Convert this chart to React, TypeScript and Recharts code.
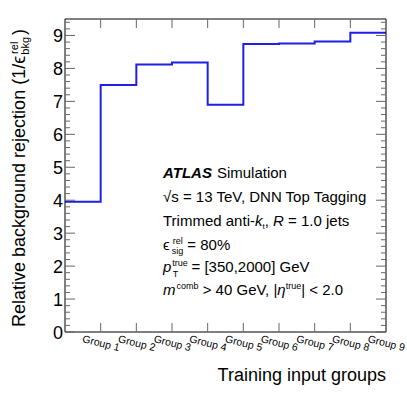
import { Line, LineChart, XAxis, YAxis } from "recharts";

const groups = ["Group 1", "Group 2", "Group 3", "Group 4", "Group 5", "Group 6", "Group 7", "Group 8", "Group 9"];
const rejection = [3.95, 7.5, 8.12, 8.18, 6.9, 8.74, 8.76, 8.82, 9.08];
const binEdges = [1, 2, 3, 4, 5, 6, 7, 8];

// step histogram: one point per bin low edge + closing point at the last edge
const data = [
	...rejection.map((value, i) => ({ x: i, value })),
	{ x: groups.length, value: rejection[rejection.length - 1] },
];

const yTicks = Array.from({ length: 48 }, (_, i) => Math.round(i * 2) / 10);
const xBottomTicks = [...binEdges, ...groups.map((_, i) => i + 0.5)].sort((a, b) => a - b);

const W = 407;
const H = 395;
const FONT = "'Liberation Sans', Arial, Helvetica, sans-serif";
const TICK = "#666";

function LeftTick({ x, y, payload }: any) {
	const v = payload.value;
	const major = Number.isInteger(v);
	return (
		<g>
			<line x1={x} x2={x + (major ? 10 : 5)} y1={y} y2={y} stroke={TICK} />
			{major ? (
				<text x={x - 2} y={y + 6.5} textAnchor="end" fontSize={18} fontFamily={FONT} fill="#000">
					{v}
				</text>
			) : null}
		</g>
	);
}

function RightTick({ x, y, payload }: any) {
	const major = Number.isInteger(payload.value);
	return <line x1={x} x2={x - (major ? 10 : 5)} y1={y} y2={y} stroke={TICK} />;
}

function BottomTick({ x, y, payload }: any) {
	const v = payload.value;
	if (Number.isInteger(v)) {
		return <line x1={x} x2={x} y1={y} y2={y - 9} stroke={TICK} />;
	}
	const label = groups[Math.floor(v)];
	return (
		<text
			x={x - 1}
			y={y + 10}
			transform={`rotate(14 ${x - 1} ${y + 10})`}
			fontSize={10.5}
			fontFamily={FONT}
			fill="#000"
		>
			{label}
		</text>
	);
}

function TopTick({ x, y }: any) {
	return <line x1={x} x2={x} y1={y} y2={y + 9} stroke={TICK} />;
}

function Annotations() {
	const tx = 163;
	const fs = 15;
	const sup = { fontSize: 9 };
	return (
		<svg width={W} height={H} style={{ position: "absolute", left: 0, top: 0, pointerEvents: "none" }}>
			<g fontFamily={FONT} fill="#000">
				<text x={tx} y={178} fontSize={fs}>
					<tspan fontWeight="bold" fontStyle="italic">ATLAS</tspan>
					<tspan dx={5}>Simulation</tspan>
				</text>
				<text x={tx} y={202} fontSize={fs}>
					√s = 13 TeV, DNN Top Tagging
				</text>
				<text x={tx} y={226} fontSize={fs}>
					Trimmed anti-<tspan fontStyle="italic">k</tspan>
					<tspan fontSize={8} dy={3}>t</tspan>
					<tspan dy={-3}>, </tspan>
					<tspan fontStyle="italic">R</tspan> = 1.0 jets
				</text>
				<text x={tx} y={250} fontSize={fs}>
					ϵ<tspan {...sup} dx={3} dy={-6}>rel</tspan>
					<tspan {...sup} dx={-11} dy={10}>sig</tspan>
					<tspan dy={-4}> = 80%</tspan>
				</text>
				<text x={tx} y={272} fontSize={fs}>
					<tspan fontStyle="italic">p</tspan>
					<tspan {...sup} dx={1} dy={-6}>true</tspan>
					<tspan {...sup} dx={-15} dy={11}>T</tspan>
					<tspan dx={9} dy={-5}> = [350,2000] GeV</tspan>
				</text>
				<text x={tx} y={295} fontSize={fs}>
					<tspan fontStyle="italic">m</tspan>
					<tspan {...sup} dx={1} dy={-6}>comb</tspan>
					<tspan dy={6}> &gt; 40 GeV, |</tspan>
					<tspan fontStyle="italic">η</tspan>
					<tspan {...sup} dy={-6}>true</tspan>
					<tspan dy={6}>| &lt; 2.0</tspan>
				</text>
			</g>
			<text x={386} y={381} textAnchor="end" fontSize={18} fontFamily={FONT} fill="#000">
				Training input groups
			</text>
			<text
				x={0}
				y={0}
				transform="translate(25 327) rotate(-90)"
				fontSize={18}
				fontFamily={FONT}
				fill="#000"
			>
				Relative background rejection (1/ϵ
				<tspan fontSize={11} dx={2} dy={-7}>rel</tspan>
				<tspan fontSize={11} dx={-13} dy={11}>bkg</tspan>
				<tspan dx={2} dy={-4}>)</tspan>
			</text>
		</svg>
	);
}

export default function App() {
	return (
		<div style={{ position: "absolute", left: 0, top: 0, width: W, height: H, background: "#fff" }}>
			<LineChart width={W} height={H} data={data} margin={{ top: 0, right: 0, bottom: 0, left: 0 }}>
				<XAxis
					dataKey="x"
					type="number"
					domain={[0, 9]}
					ticks={xBottomTicks}
					interval={0}
					height={63}
					tickSize={0}
					tickMargin={0}
					tick={<BottomTick />}
					axisLine={{ stroke: "#000" }}
					allowDataOverflow
				/>
				<XAxis
					xAxisId="top"
					orientation="top"
					type="number"
					domain={[0, 9]}
					ticks={binEdges}
					interval={0}
					height={19}
					tickSize={0}
					tickMargin={0}
					tick={<TopTick />}
					axisLine={{ stroke: "#000" }}
					allowDataOverflow
				/>
				<YAxis
					type="number"
					domain={[0, 9.5]}
					ticks={yTicks}
					interval={0}
					width={65}
					tickSize={0}
					tickMargin={0}
					tick={<LeftTick />}
					axisLine={{ stroke: "#000" }}
					allowDataOverflow
				/>
				<YAxis
					yAxisId="right"
					orientation="right"
					type="number"
					domain={[0, 9.5]}
					ticks={yTicks}
					interval={0}
					width={21}
					tickSize={0}
					tickMargin={0}
					tick={<RightTick />}
					axisLine={{ stroke: "#000" }}
					allowDataOverflow
				/>
				<Line
					type="stepAfter"
					dataKey="value"
					stroke="#1f1fe6"
					strokeWidth={2}
					dot={false}
					isAnimationActive={false}
				/>
			</LineChart>
			<Annotations />
		</div>
	);
}
